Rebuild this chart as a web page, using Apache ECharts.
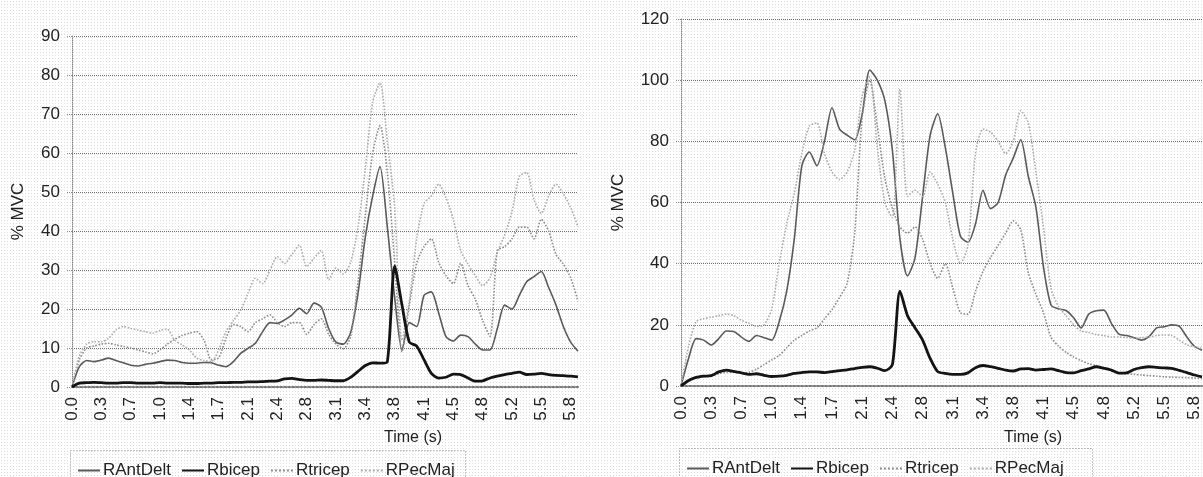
<!DOCTYPE html>
<html>
<head>
<meta charset="utf-8">
<style>
  html, body { margin: 0; padding: 0; }
  body {
    background-color: #ffffff;
    background-image: radial-gradient(#dcdcdc 0.7px, transparent 0.9px);
    background-size: 3px 3px;
  }
  #chart { width: 1203px; height: 477px; }
</style>
<script src="https://cdn.jsdelivr.net/npm/echarts@6/dist/echarts.min.js"></script>
</head>
<body>
<div id="chart"></div>
<script>
// time (s) of every sample, shared by both panels
const times = [
  "0.0", "0.1", "0.2", "0.3", "0.3", "0.4", "0.5", "0.6", "0.7", "0.8",
  "0.9", "0.9", "1.0", "1.1", "1.2", "1.3", "1.4", "1.5", "1.5", "1.6",
  "1.7", "1.8", "1.9", "2.0", "2.1", "2.2", "2.2", "2.3", "2.4", "2.5",
  "2.6", "2.7", "2.8", "2.8", "2.9", "3.0", "3.1", "3.2", "3.3", "3.4",
  "3.4", "3.5", "3.6", "3.7", "3.8", "3.9", "4.0", "4.0", "4.1", "4.2",
  "4.3", "4.4", "4.5", "4.6", "4.6", "4.7", "4.8", "4.9", "5.0", "5.1",
  "5.2", "5.2", "5.3", "5.4", "5.5", "5.6", "5.7", "5.8", "5.8", "5.9"
];

const seriesNames = ["RAntDelt", "Rbicep", "Rtricep", "RPecMaj"];

// left panel (% MVC)
const leftAntDelt = [
  0, 5.2, 6.8, 6.5, 6.9, 7.4, 6.8, 6.2, 5.6, 5.4,
  5.8, 6.1, 6.5, 6.9, 6.8, 6.3, 6.1, 6.1, 6.3, 6.2,
  5.6, 5.2, 6.5, 8.6, 9.9, 11.2, 14.2, 16.5, 16.3, 17.2,
  18.5, 20.2, 18.8, 21.5, 20.5, 15, 11.5, 11, 14, 24,
  38.5, 49, 56.5, 41, 23, 9.5, 16.5, 15.5, 23.5, 24.4,
  19, 12.9, 11.8, 13.3, 12.9, 11, 9.5, 9.5, 15, 21,
  20, 23.5, 27, 28.3, 29.6, 25.5, 21, 15.5, 11.5, 9.2
];
const leftBicep = [
  0, 1, 1.1, 1.2, 1.1, 1, 1, 1.1, 1.1, 1,
  1, 1, 1.1, 1, 1, 1, 0.9, 0.9, 1, 1,
  1.1, 1.1, 1.2, 1.2, 1.3, 1.3, 1.4, 1.5, 1.6, 2.1,
  2.2, 1.9, 1.7, 1.7, 1.8, 1.7, 1.6, 1.6, 2.5, 4,
  5.5, 6.2, 6.1, 6.5, 31, 21, 11.5, 10.5, 7, 3.5,
  2.3, 2.5, 3.3, 3.2, 2.3, 1.5, 1.6, 2.3, 2.8, 3.2,
  3.5, 3.8, 3.2, 3.3, 3.5, 3.2, 3, 2.9, 2.8, 2.6
];
const leftTricep = [
  0, 7, 10, 10.5, 11, 11.2, 10.8, 10.4, 10, 9.5,
  9, 8.5, 9.5, 11, 12.2, 13.2, 13.8, 14.2, 12, 7,
  7.5, 12.5, 16, 15.5, 14.2, 16.5, 17.5, 18.5, 16.5, 15.5,
  16.5, 16.5, 13.5, 16, 17.5, 13.5, 11, 9.8, 13, 27,
  44, 60, 67, 55, 32, 9, 21, 31.7, 36, 38,
  32, 28.5, 26.5, 31.7, 26, 22.5, 17, 13, 35, 36,
  38, 41, 41, 38, 43, 40, 34, 31.5, 28, 22
];
const leftPecMaj = [
  0, 8, 11, 11.6, 11.6, 12.5, 14.6, 15.5, 15, 14.6,
  14.2, 13.8, 14.5, 14.8, 12, 10.8, 9.5, 7.4, 6.8, 6.5,
  9.5, 14.2, 17, 19.7, 24, 27.9, 26.5, 30, 33.4, 31.7,
  34, 36.4, 30.9, 33, 35, 27.5, 30.5, 29, 32, 41,
  56, 73, 78, 63, 46, 12, 22, 38, 47, 49,
  52, 48.5, 43, 35, 31.5, 28.5, 26, 28, 34.5, 39,
  45, 54, 55, 48, 44.5, 49, 52, 49.5, 46, 41
];

// right panel (% MVC)
const rightAntDelt = [
  0, 9, 15.5, 15, 13.4, 15.5, 18, 17.8, 16, 14.6,
  16.5, 15.8, 15, 21, 31, 48, 72, 76.5, 72, 80,
  91, 84, 82, 80.5, 89, 103.3, 100, 93.3, 77, 48,
  36, 42, 62, 82, 89, 78, 63, 49, 47, 53,
  64, 58, 60, 69, 74.5, 80.5, 68.5, 58.5, 39, 26.5,
  25.2, 24.7, 22.3, 19, 23.5, 24.6, 24.8, 20.5, 17, 16.5,
  15.8, 15, 16.2, 19, 19.4, 20, 19.5, 16, 13, 11.7
];
const rightBicep = [
  0, 1.8, 2.8, 3.2, 3.4, 4.6, 5.2, 4.8, 4.3, 3.8,
  4, 3.5, 3.1, 3.2, 3.5, 4.1, 4.4, 4.6, 4.6, 4.4,
  4.7, 5, 5.3, 5.7, 6.1, 6.3, 5.8, 5, 7, 31,
  23, 19, 15, 9, 4.7, 4.1, 3.8, 3.8, 4.3, 6,
  6.7, 6.3, 5.8, 5.2, 4.9, 5.6, 5.7, 5.2, 5.4, 5.6,
  5, 4.4, 4.3, 5, 5.6, 6.3, 5.8, 5.2, 4.2, 4.3,
  5.4, 6, 6.3, 6.1, 5.9, 5.8, 5.1, 4.4, 3.6, 3
];
const rightTricep = [
  0, 1.5, 2.5, 3, 3.3, 4, 4.5, 4.5, 4.2, 4.5,
  5.5, 7, 8.5, 10, 12.5, 15, 16.5, 18, 19, 22,
  25, 29, 33.5, 50, 88, 100, 85, 68, 58, 52,
  50, 52, 48, 40, 35.2, 40, 32, 24, 23.5, 31,
  37.5, 42, 46, 50, 54, 51, 37, 30, 24, 16,
  13, 11, 9.5, 8.3, 7.3, 6.6, 6, 5, 4.3, 4,
  3.8, 3.6, 3.4, 3.2, 3, 2.9, 2.8, 2.7, 2.6, 2.5
];
const rightPecMaj = [
  0, 13, 21, 22, 22.5, 23, 23.5, 23, 21.5, 20.5,
  19.5, 20, 25, 40, 53, 63, 76, 85, 86, 76,
  70, 67.5, 70, 77, 95, 101, 78, 60, 55, 97,
  62, 64, 62, 70, 66, 60, 48, 40, 46, 76,
  84, 83, 80, 76, 80, 90, 86, 70, 52, 32,
  26, 23, 20, 18, 17.5, 16.8, 16.5, 16, 16, 15.8,
  15.6, 15.8, 16, 16.5, 16.7, 16.5, 15, 13.5, 12.8, 12.3
];

const FONT = "Liberation Sans";
const lineStyles = {
  RAntDelt: { color: "#5a5a5a", width: 1.6, type: "solid" },
  Rbicep: { color: "#141414", width: 2.8, type: "solid" },
  Rtricep: { color: "#8c8c8c", width: 1.6, type: "dotted" },
  RPecMaj: { color: "#ababab", width: 1.6, type: "dotted" }
};

function makeSeries(name, data, axisIndex) {
    return {
        name: name,
        type: "line",
        xAxisIndex: axisIndex,
        yAxisIndex: axisIndex,
        data: data,
        symbol: "none",
        smooth: 0.25,
        lineStyle: lineStyles[name],
        itemStyle: { color: lineStyles[name].color },
        z: name === "Rbicep" ? 5 : 3
    };
}

function makeXAxis(gridIndex) {
    return {
        type: "category",
        gridIndex: gridIndex,
        data: times,
        boundaryGap: false,
        axisLine: { lineStyle: { color: "#7a7a7a", width: 2, type: "dotted" } },
        axisTick: { show: false },
        axisLabel: {
            interval: 3,
            rotate: 90,
            margin: 10,
            color: "#222",
            fontFamily: FONT,
            fontSize: 17
        },
        splitLine: { show: false }
    };
}

function makeYAxis(gridIndex, max, interval, nameGap) {
    return {
        type: "value",
        gridIndex: gridIndex,
        min: 0,
        max: max,
        interval: interval,
        name: "% MVC",
        nameLocation: "middle",
        nameGap: nameGap,
        nameTextStyle: { color: "#222", fontFamily: FONT, fontSize: 17 },
        axisLine: { show: true, lineStyle: { color: "#8a8a8a", width: 1, type: "dotted" } },
        axisTick: { show: true, length: 5, lineStyle: { color: "#8a8a8a", type: "dotted" } },
        axisLabel: { color: "#222", fontFamily: FONT, fontSize: 17, margin: 12 },
        splitLine: { show: true, lineStyle: { color: "#6e6e6e", width: 1, type: "dotted" } }
    };
}

function makeLegend(left, top) {
    return {
        left: left,
        top: top,
        orient: "horizontal",
        itemWidth: 22,
        itemHeight: 12,
        itemGap: 10,
        data: seriesNames,
        itemStyle: { opacity: 0 },
        textStyle: { color: "#222", fontFamily: FONT, fontSize: 17, padding: [0, 0, 0, -2] }
    };
}

const chart = echarts.init(document.getElementById("chart"), null, { renderer: "canvas" });

chart.setOption({
    backgroundColor: "transparent",
    animation: false,
    grid: [
        { left: 72, top: 36, width: 506, height: 351 },
        { left: 681, top: 19, width: 521, height: 367 }
    ],
    xAxis: [makeXAxis(0), makeXAxis(1)],
    yAxis: [makeYAxis(0, 90, 10, 45), makeYAxis(1, 120, 20, 54)],
    legend: [makeLegend(72, 457), makeLegend(681, 455)],
    graphic: [
        {
            type: "rect",
            shape: { x: 70.5, y: 450.5, width: 395, height: 40 },
            style: { fill: "none", stroke: "#8a8a8a", lineWidth: 1, lineDash: [1, 2] }
        },
        {
            type: "rect",
            shape: { x: 679.5, y: 448.5, width: 413, height: 40 },
            style: { fill: "none", stroke: "#8a8a8a", lineWidth: 1, lineDash: [1, 2] }
        },
        {
            type: "rect",
            shape: { x: 901, y: 14, width: 32, height: 10 },
            style: { fill: "#ffffff" }
        },
        {
            type: "text",
            x: 413,
            y: 438,
            style: {
                text: "Time (s)",
                fill: "#222",
                font: "16px 'Liberation Sans'",
                textAlign: "center",
                textVerticalAlign: "middle"
            }
        },
        {
            type: "text",
            x: 1033,
            y: 438,
            style: {
                text: "Time (s)",
                fill: "#222",
                font: "16px 'Liberation Sans'",
                textAlign: "center",
                textVerticalAlign: "middle"
            }
        }
    ],
    series: [
        makeSeries("RAntDelt", leftAntDelt, 0),
        makeSeries("Rbicep", leftBicep, 0),
        makeSeries("Rtricep", leftTricep, 0),
        makeSeries("RPecMaj", leftPecMaj, 0),
        makeSeries("RAntDelt", rightAntDelt, 1),
        makeSeries("Rbicep", rightBicep, 1),
        makeSeries("Rtricep", rightTricep, 1),
        makeSeries("RPecMaj", rightPecMaj, 1)
    ]
});
</script>
</body>
</html>
